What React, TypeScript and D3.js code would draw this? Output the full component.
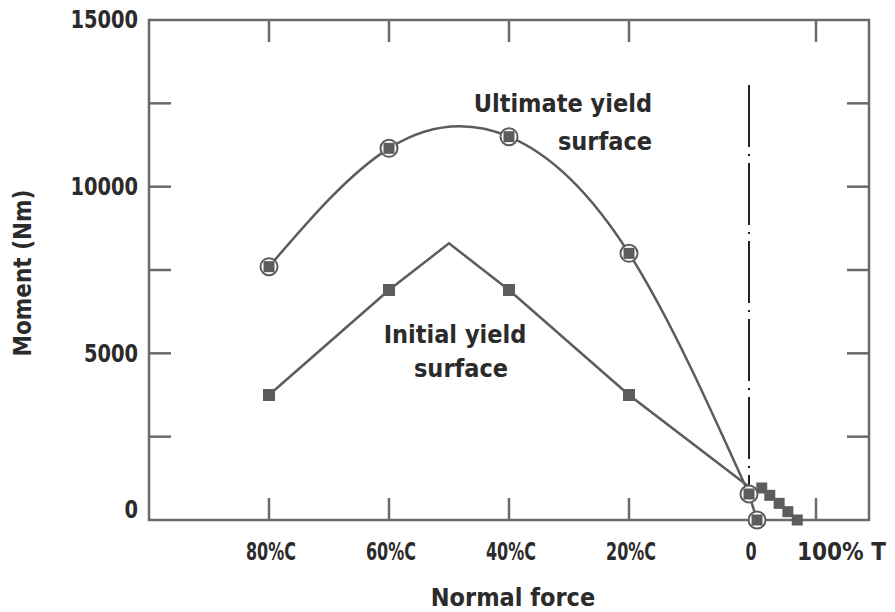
import React from "react";
import * as d3 from "d3";

// ---- data ----
const xTickValues = [-80, -60, -40, -20, 0, 100];
const xTickLabels = ["80%C", "60%C", "40%C", "20%C", "0", "100% T"];
const yTickValues = [0, 5000, 10000, 15000];
const yMinorTicks = [2500, 5000, 7500, 10000, 12500];

// Ultimate yield surface (normal force %, moment Nm); negative = compression
const ultimateN = [-80, -60, -40, -20, 0];
const ultimateM = [7600, 11150, 11500, 8000, 780];
const ultimateTailN = [0, 12];
const ultimateTailM = [780, 0];

// Initial yield surface
const initialN = [-80, -60, -50, -40, -20, 0];
const initialM = [3750, 6900, 8300, 6900, 3750, 1000];
const initialMarked = [true, true, false, true, true, false];
const initialTensionN = [19, 31, 45, 58, 72];
const initialTensionM = [960, 740, 500, 250, 0];

// ---- layout ----
const X_LEFT = 149, X_ZERO = 749, X_100T = 816, X_RIGHT = 869;
const Y_TOP = 20, Y_BOTTOM = 520;
const TICK = 22;
const AXIS_COLOR = "#6a6a6a";
const LINE_COLOR = "#5c5c5c";
const TEXT_COLOR = "#2b2b2b";
const FONT = "'DejaVu Sans Condensed', 'DejaVu Sans', sans-serif";

export default function App() {
  const x = d3.scaleLinear().domain([-100, 0, 100]).range([X_LEFT, X_ZERO, X_100T]);
  const y = d3.scaleLinear().domain([0, 15000]).range([Y_BOTTOM, Y_TOP]);

  const ultPts: [number, number][] = ultimateN.map((n, i) => [n, ultimateM[i]]);
  const ultTail: [number, number][] = ultimateTailN.map((n, i) => [n, ultimateTailM[i]]);
  const iniPts: [number, number][] = initialN.map((n, i) => [n, initialM[i]]);
  const iniTension: [number, number][] = initialTensionN.map((n, i) => [n, initialTensionM[i]]);

  const curve = d3.line<[number, number]>().x(d => x(d[0])).y(d => y(d[1])).curve(d3.curveNatural);
  const straight = d3.line<[number, number]>().x(d => x(d[0])).y(d => y(d[1]));

  const sq = 12;
  const sqSmall = 11;
  const textStyle: React.CSSProperties = { fontFamily: FONT, fontWeight: 700, fill: TEXT_COLOR, fontStretch: "condensed" };

  return (
    <svg width={895} height={612} style={{ position: "absolute", left: 0, top: 0, background: "#fff" }}>
      <rect x={0} y={0} width={895} height={612} fill="#fff" />
      {/* frame */}
      <rect x={X_LEFT} y={Y_TOP} width={X_RIGHT - X_LEFT} height={Y_BOTTOM - Y_TOP} fill="none" stroke={AXIS_COLOR} strokeWidth={2.5} />
      {/* y ticks, left and right */}
      {yMinorTicks.map(v => (
        <g key={"yt" + v}>
          <line x1={X_LEFT} x2={X_LEFT + TICK} y1={y(v)} y2={y(v)} stroke={AXIS_COLOR} strokeWidth={2.5} />
          <line x1={X_RIGHT - TICK} x2={X_RIGHT} y1={y(v)} y2={y(v)} stroke={AXIS_COLOR} strokeWidth={2.5} />
        </g>
      ))}
      {/* x ticks, top and bottom */}
      {xTickValues.filter(v => v !== 0).map(v => (
        <g key={"xt" + v}>
          <line x1={x(v)} x2={x(v)} y1={Y_BOTTOM} y2={Y_BOTTOM - TICK} stroke={AXIS_COLOR} strokeWidth={2.5} />
          <line x1={x(v)} x2={x(v)} y1={Y_TOP} y2={Y_TOP + TICK} stroke={AXIS_COLOR} strokeWidth={2.5} />
        </g>
      ))}
      {/* y tick labels */}
      {yTickValues.map(v => (
        <text key={"yl" + v} x={138} y={v === 0 ? y(v) - 10 : y(v)} textAnchor="end" dominantBaseline="central"
          fontSize={24} style={textStyle} transform={`translate(138,0) scale(0.9,1) translate(-138,0)`}>
          {v}
        </text>
      ))}
      {/* x tick labels */}
      {xTickValues.map((v, i) => {
        if (v === 100) {
          return (
            <text key={"xl" + v} x={x(v) - 19} y={560} textAnchor="start" fontSize={24} style={textStyle}>
              {xTickLabels[i]}
            </text>
          );
        }
        const cx = x(v) + 2;
        return (
          <text key={"xl" + v} x={cx} y={560} textAnchor="middle" fontSize={24} style={textStyle}
            transform={`translate(${cx},0) scale(0.74,1) translate(${-cx},0)`}>
            {xTickLabels[i]}
          </text>
        );
      })}
      {/* axis titles */}
      <text x={513} y={606} textAnchor="middle" fontSize={25} style={textStyle}>Normal force</text>
      <text transform={`translate(31,273) rotate(-90)`} x={0} y={0} textAnchor="middle" fontSize={24} style={textStyle}>Moment (Nm)</text>

      {/* dash-dot vertical line at zero */}
      <line x1={X_ZERO} x2={X_ZERO} y1={85} y2={y(1000)} stroke="#222" strokeWidth={2} strokeDasharray="62 7 2 7" />

      {/* initial yield surface */}
      <path d={straight(iniPts) || ""} fill="none" stroke={LINE_COLOR} strokeWidth={2.5} />
      {iniPts.map((p, i) => initialMarked[i] ? (
        <rect key={"ini" + i} x={x(p[0]) - sq / 2} y={y(p[1]) - sq / 2} width={sq} height={sq} fill={LINE_COLOR} />
      ) : null)}
      {iniTension.map((p, i) => (
        <rect key={"init" + i} x={x(p[0]) - sqSmall / 2} y={y(p[1]) - sqSmall / 2} width={sqSmall} height={sqSmall} fill={LINE_COLOR} />
      ))}

      {/* ultimate yield surface */}
      <path d={curve(ultPts) || ""} fill="none" stroke={LINE_COLOR} strokeWidth={2.5} />
      <path d={straight(ultTail) || ""} fill="none" stroke={LINE_COLOR} strokeWidth={2.5} />
      {[...ultPts, ultTail[1]].map((p, i) => (
        <g key={"ult" + i}>
          <circle cx={x(p[0])} cy={y(p[1])} r={8.5} fill="#fff" stroke={LINE_COLOR} strokeWidth={2} />
          <rect x={x(p[0]) - 5.5} y={y(p[1]) - 5.5} width={11} height={11} fill={LINE_COLOR} />
        </g>
      ))}

      {/* annotations */}
      <text x={652} y={112} textAnchor="end" fontSize={25} style={textStyle}>Ultimate yield</text>
      <text x={652} y={150} textAnchor="end" fontSize={25} style={textStyle}>surface</text>
      <text x={455} y={343} textAnchor="middle" fontSize={25} style={textStyle}>Initial yield</text>
      <text x={461} y={377} textAnchor="middle" fontSize={25} style={textStyle}>surface</text>
    </svg>
  );
}
